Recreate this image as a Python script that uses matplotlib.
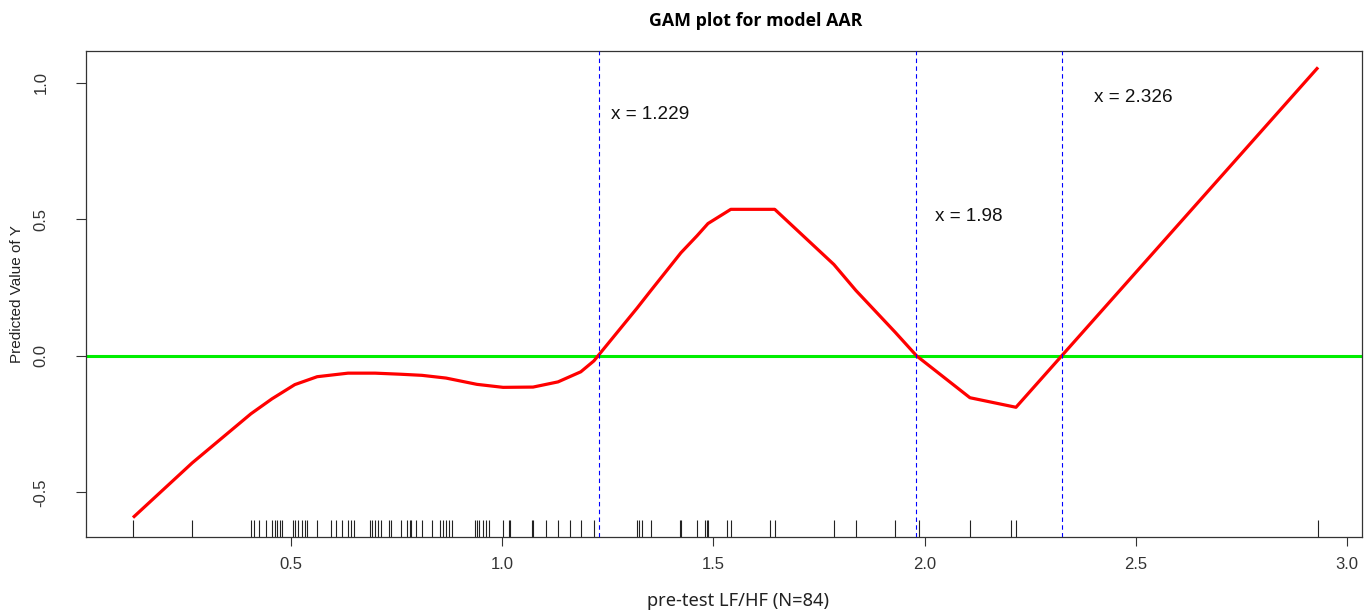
import matplotlib
matplotlib.use("Agg")
import matplotlib.pyplot as plt
import numpy as np

# ---- data ----
curve_x = [0.126, 0.266, 0.405, 0.455, 0.509, 0.562, 0.635, 0.699, 0.760, 0.810,
           0.867, 0.940, 1.002, 1.073, 1.132, 1.186, 1.217, 1.319, 1.352, 1.423,
           1.461, 1.487, 1.541, 1.645, 1.785, 1.837, 1.930, 1.981, 2.107, 2.216, 2.931]
curve_y = [-0.592, -0.392, -0.212, -0.157, -0.105, -0.076, -0.063, -0.063, -0.067, -0.071,
           -0.081, -0.104, -0.115, -0.114, -0.095, -0.058, -0.018, 0.175, 0.240, 0.378,
           0.440, 0.485, 0.537, 0.537, 0.335, 0.240, 0.087, 0.0, -0.153, -0.188, 1.057]

rug_x = [0.126, 0.266, 0.405, 0.412, 0.424, 0.441, 0.455, 0.462, 0.467, 0.474, 0.479,
         0.505, 0.509, 0.517, 0.526, 0.533, 0.538, 0.562, 0.595, 0.607, 0.621, 0.635,
         0.642, 0.649, 0.687, 0.692, 0.699, 0.706, 0.713, 0.732, 0.737, 0.760, 0.775,
         0.782, 0.784, 0.796, 0.810, 0.834, 0.853, 0.860, 0.867, 0.874, 0.881, 0.935,
         0.940, 0.945, 0.954, 0.962, 0.969, 1.002, 1.016, 1.018, 1.070, 1.073, 1.104,
         1.132, 1.160, 1.186, 1.217, 1.319, 1.324, 1.331, 1.352, 1.421, 1.423, 1.461,
         1.480, 1.484, 1.487, 1.532, 1.541, 1.634, 1.645, 1.785, 1.837, 1.930, 1.986,
         2.107, 2.204, 2.216, 2.931]

cut_points = [1.229, 1.98, 2.326]
cut_labels = ["x = 1.229", "x = 1.98", "x = 2.326"]
label_pos_x = [1.257, 2.024, 2.401]
label_pos_y = [0.883, 0.509, 0.945]

x_ticks = [0.5, 1.0, 1.5, 2.0, 2.5, 3.0]
x_tick_labels = ["0.5", "1.0", "1.5", "2.0", "2.5", "3.0"]
y_ticks = [-0.5, 0.0, 0.5, 1.0]
y_tick_labels = ["-0.5", "0.0", "0.5", "1.0"]

title = "GAM plot for model AAR"
xlabel = "pre-test LF/HF (N=84)"
ylabel = "Predicted Value of Y"

# ---- figure ----
W, H = 1370, 614
fig = plt.figure(figsize=(W / 100, H / 100), dpi=100)
ax = fig.add_axes([86 / W, 1 - 536.7 / H, (1362 - 86) / W, (536.7 - 50.7) / H])

ax.set_xlim(0.0148, 3.035)
ax.set_ylim(-0.662, 1.118)

ax.axhline(0, color="#00ee00", lw=2.2, zorder=2)
ax.plot(curve_x, curve_y, color="#ff0000", lw=2.3, zorder=3, solid_capstyle="butt")
for cp in cut_points:
    ax.axvline(cp, color="#0000ff", lw=0.8, ls=(0, (4, 3)), zorder=4)
for tx, ty, t in zip(label_pos_x, label_pos_y, cut_labels):
    ax.text(tx, ty, t, ha="left", va="center", fontsize=13.6,
            family=["Liberation Sans", "DejaVu Sans"], color="#111111")

ax.vlines(rug_x, 0, 17 / 486, transform=ax.get_xaxis_transform(),
          color="#222222", lw=0.8, zorder=2)

tick_font = dict(family=["Liberation Sans", "DejaVu Sans"], size=12)
ax.set_xticks(x_ticks)
ax.set_xticklabels(x_tick_labels, **tick_font, color="#222222")
ax.set_yticks(y_ticks)
ax.set_yticklabels(y_tick_labels, rotation=90, va="center", **tick_font, color="#222222")
ax.tick_params(axis="x", direction="out", length=6.5, width=0.8, pad=8, colors="#333333")
ax.tick_params(axis="y", direction="out", length=7, width=0.8, pad=20, colors="#333333")
for s in ax.spines.values():
    s.set_linewidth(0.9)
    s.set_color("#333333")

fig.text(756 / W, 1 - 21 / H, title, ha="center", va="center", fontsize=12.8,
         fontweight="bold", family=["Open Sans", "DejaVu Sans"])
fig.text(738 / W, 1 - 601 / H, xlabel, ha="center", va="center", fontsize=13.2,
         family=["Noto Sans", "DejaVu Sans"], color="#222222")
fig.text(17 / W, 1 - 294 / H, ylabel, ha="center", va="center", rotation=90,
         fontsize=11, family=["Liberation Sans", "DejaVu Sans"], color="#222222")

fig.savefig("out.png", dpi=100)
